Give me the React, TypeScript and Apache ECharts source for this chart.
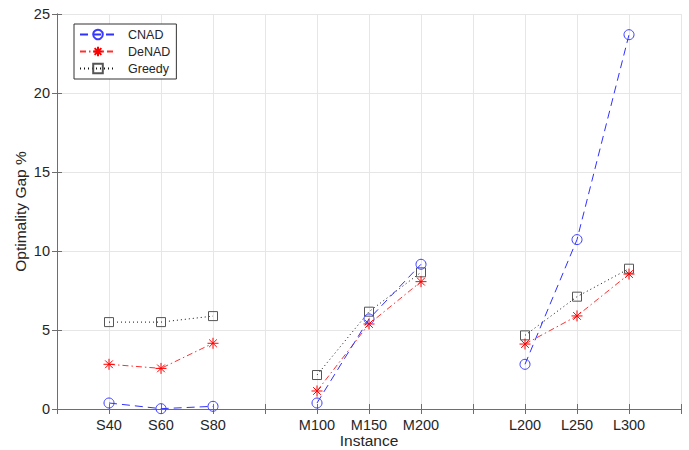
import React, { useEffect, useRef } from "react";
import * as echarts from "echarts";

const categories = ["S40", "S60", "S80", "M100", "M150", "M200", "L200", "L250", "L300"];
const positions = [1, 2, 3, 5, 6, 7, 9, 10, 11];
const cnad = [0.38, 0.02, 0.17, 0.38, 5.7, 9.16, 2.83, 10.72, 23.69];
const denad = [2.83, 2.57, 4.16, 1.14, 5.38, 8.06, 4.11, 5.89, 8.54];
const greedy = [5.5, 5.5, 5.88, 2.15, 6.16, 8.65, 4.66, 7.11, 8.88];
const yTicks = [0, 5, 10, 15, 20, 25];

const FONT = "Liberation Sans, Arial, Helvetica, sans-serif";
const ASTERISK = "path://M0,-5L0,5M-5,0L5,0M-3.5,-3.5L3.5,3.5M-3.5,3.5L3.5,-3.5";

function buildData(values: number[]) {
  const out: any[] = [];
  values.forEach((v, i) => {
    out.push([positions[i], v]);
    if (i < values.length - 1 && positions[i + 1] - positions[i] > 1) {
      out.push([positions[i] + 1, "-"]);
    }
  });
  return out;
}

function labelFor(v: number) {
  const idx = positions.indexOf(v);
  return idx >= 0 ? categories[idx] : "";
}

export default function App() {
  const ref = useRef<HTMLDivElement>(null);
  useEffect(() => {
    if (!ref.current) return;
    const chart = echarts.init(ref.current, undefined, { renderer: "svg" });
    const axisColor = "#6e6e6e";
    const textColor = "#262626";
    const xCommon = {
      type: "value" as const,
      min: 0,
      max: 12,
      interval: 1,
    };
    const yCommon = {
      type: "value" as const,
      min: yTicks[0],
      max: yTicks[yTicks.length - 1],
      interval: yTicks[1] - yTicks[0],
    };
    chart.setOption({
      animation: false,
      backgroundColor: "#ffffff",
      grid: {
        left: 57,
        top: 14,
        right: 8,
        bottom: 41,
        containLabel: false,
        outerBoundsMode: "none",
      },
      legend: {
        orient: "vertical",
        left: 74,
        top: 24,
        padding: [4, 6, 4, 5],
        itemWidth: 36,
        itemHeight: 12,
        itemGap: 4,
        borderColor: "#333333",
        borderWidth: 1,
        backgroundColor: "#ffffff",
        textStyle: { fontFamily: FONT, fontSize: 12.5, color: textColor, padding: [0, 0, 0, 7] },
        data: ["CNAD", "DeNAD", "Greedy"],
      },
      xAxis: [
        {
          ...xCommon,
          position: "bottom",
          name: "Instance",
          nameLocation: "middle",
          nameGap: 23,
          nameMoveOverlap: false,
          nameTextStyle: { fontFamily: FONT, fontSize: 15.5, color: textColor, lineHeight: 16 },
          axisLine: { show: true, lineStyle: { color: axisColor, width: 1 } },
          axisTick: { show: true, inside: true, length: 5, lineStyle: { color: axisColor } },
          axisLabel: {
            fontFamily: FONT,
            fontSize: 14.5,
            color: textColor,
            margin: 8,
            formatter: (v: number) => labelFor(v),
          },
          splitLine: { show: true, lineStyle: { color: "#e6e6e6", width: 1 } },
        },
        {
          ...xCommon,
          position: "top",
          axisLine: { show: true, lineStyle: { color: axisColor, width: 1 } },
          axisTick: { show: true, inside: true, length: 5, lineStyle: { color: axisColor } },
          axisLabel: { show: false },
          splitLine: { show: false },
        },
      ],
      yAxis: [
        {
          ...yCommon,
          position: "left",
          name: "Optimality Gap %",
          nameLocation: "middle",
          nameGap: 29,
          nameMoveOverlap: false,
          nameTextStyle: { fontFamily: FONT, fontSize: 15.5, color: textColor },
          axisLine: { show: true, lineStyle: { color: axisColor, width: 1 } },
          axisTick: { show: true, inside: true, length: 5, lineStyle: { color: axisColor } },
          axisLabel: { fontFamily: FONT, fontSize: 14.5, color: textColor, margin: 7 },
          splitLine: { show: true, lineStyle: { color: "#e6e6e6", width: 1 } },
        },
        {
          ...yCommon,
          position: "right",
          axisLine: { show: true, lineStyle: { color: axisColor, width: 1 } },
          axisTick: { show: true, inside: true, length: 5, lineStyle: { color: axisColor } },
          axisLabel: { show: false },
          splitLine: { show: false },
        },
      ],
      series: [
        {
          name: "CNAD",
          type: "line",
          xAxisIndex: 0,
          yAxisIndex: 0,
          data: buildData(cnad),
          connectNulls: false,
          symbol: "circle",
          symbolSize: 10,
          showAllSymbol: true,
          lineStyle: { color: "#3030ff", width: 1, type: [8, 5] },
          itemStyle: { color: "rgba(0,0,0,0)", borderColor: "#3b3bff", borderWidth: 1 },
          z: 3,
        },
        {
          name: "DeNAD",
          type: "line",
          xAxisIndex: 0,
          yAxisIndex: 0,
          data: buildData(denad),
          connectNulls: false,
          symbol: ASTERISK,
          symbolSize: 11,
          showAllSymbol: true,
          lineStyle: { color: "#ff3030", width: 1, type: [6, 3, 1.5, 3] },
          itemStyle: { color: "rgba(0,0,0,0)", borderColor: "#ff0000", borderWidth: 1 },
          z: 2,
        },
        {
          name: "Greedy",
          type: "line",
          xAxisIndex: 0,
          yAxisIndex: 0,
          data: buildData(greedy),
          connectNulls: false,
          symbol: "rect",
          symbolSize: 9,
          showAllSymbol: true,
          lineStyle: { color: "#111111", width: 1, type: [1, 3] },
          itemStyle: { color: "rgba(0,0,0,0)", borderColor: "#555555", borderWidth: 1 },
          z: 1,
        },
      ],
    });
    return () => chart.dispose();
  }, []);
  return (
    <div
      ref={ref}
      style={{ position: "absolute", left: 0, top: 0, width: 689, height: 450 }}
    />
  );
}
